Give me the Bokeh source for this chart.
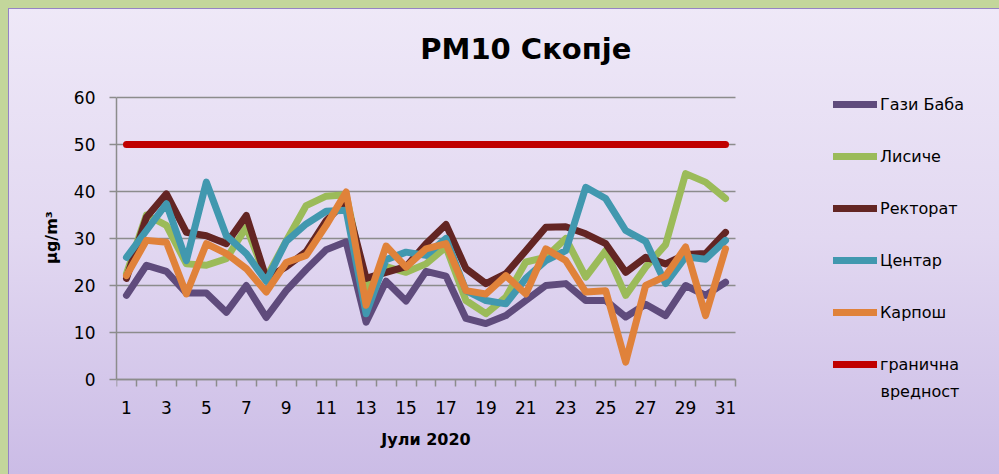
from bokeh.plotting import figure
from bokeh.models import (ColumnDataSource, Legend, LegendItem, FixedTicker, Range1d, Label)
from bokeh.embed import file_html
from bokeh.resources import INLINE

days = list(range(1, 32))
gazi_baba = [17.9, 24.3, 23.0, 18.4, 18.4, 14.3, 20.0, 13.2, 18.9, 23.4, 27.6, 29.3, 12.2, 20.9, 16.7,
             23.0, 22.0, 13.0, 11.9, 13.6, 16.8, 20.0, 20.4, 16.8, 16.8, 13.3, 16.0, 13.6, 20.0, 17.9, 20.7]
lisice = [22.5, 35.0, 32.8, 24.6, 24.3, 25.7, 32.4, 21.6, 29.5, 37.0, 39.0, 39.3, 19.5, 24.0, 22.8,
          24.6, 28.2, 16.8, 14.0, 17.5, 25.0, 26.0, 30.0, 21.8, 27.4, 17.9, 23.9, 28.7, 43.8, 42.0, 38.5]
rektorat = [21.5, 34.5, 39.5, 31.3, 30.6, 28.9, 34.9, 21.5, 24.0, 27.2, 33.8, 38.0, 21.5, 22.8, 24.0,
            28.9, 33.0, 23.6, 20.4, 22.5, 27.4, 32.4, 32.5, 31.0, 28.9, 22.8, 26.0, 24.6, 26.6, 26.8, 31.3]
centar = [26.0, 31.7, 37.4, 25.3, 42.0, 30.6, 26.8, 20.9, 29.4, 33.1, 35.8, 36.0, 14.0, 25.5, 27.1,
          26.4, 30.0, 18.9, 16.8, 16.1, 21.5, 25.3, 27.4, 40.9, 38.5, 31.7, 29.4, 20.4, 26.1, 25.6, 29.6]
karposh = [22.1, 29.6, 29.2, 18.2, 28.9, 26.8, 23.6, 18.6, 24.9, 26.4, 32.8, 39.9, 15.8, 28.4, 23.9,
           27.8, 28.9, 18.9, 18.2, 22.1, 18.2, 27.8, 25.3, 18.6, 18.9, 3.7, 20.0, 22.0, 28.2, 13.6, 27.8]
limit = [50] * 31

series_names = ["Гази Баба", "Лисиче", "Ректорат", "Центар", "Карпош", "гранична"]
limit_name_second_line = "вредност"
series_values = [gazi_baba, lisice, rektorat, centar, karposh, limit]
series_colors = ["#5f4b7c", "#9bbb59", "#632523", "#4198af", "#e0823a", "#c00000"]

x_tick_labels = {d: str(d) for d in range(1, 32, 2)}
y_ticks = [0, 10, 20, 30, 40, 50, 60]
title_text = "PM10 Скопје"

FONT = "DejaVu Sans"

# The frame fills the whole figure right of the value axis; the axes are pinned
# at their data positions so that the title and legend can sit inside the frame.
x_lo = days[0] - 0.5
x_hi = days[-1] + 0.5
px_per_day = 619 / (x_hi - x_lo)
x_end = x_lo + 883 / px_per_day
px_per_unit = 282 / y_ticks[-1]
y_start = -95 / px_per_unit
y_end = 379 / px_per_unit

p = figure(width=999, height=474, output_backend="svg", toolbar_location=None,
           x_range=Range1d(x_lo, x_end), y_range=Range1d(y_start, y_end),
           min_border_left=116, min_border_right=0, min_border_top=0, min_border_bottom=0)
p.border_fill_color = None
p.background_fill_color = None
p.outline_line_color = None
p.styles = {"background": "linear-gradient(to bottom, #efe9f8 0%, #e2d8f1 50%, #cbbce6 100%)",
            "box-shadow": "inset 8px 8px 0 0 #c3d69b, inset 9px 9px 0 0 #9583c4"}

# horizontal grid lines limited to the day axis
p.segment(x0=[x_lo] * len(y_ticks), x1=[x_hi] * len(y_ticks), y0=y_ticks, y1=y_ticks,
          line_color="#8c8c8c", line_width=1.5)

renderers = []
for name, vals, col in zip(series_names, series_values, series_colors):
    src = ColumnDataSource(dict(x=days, y=vals))
    r = p.line("x", "y", source=src, line_color=col, line_width=7,
               line_join="round", line_cap="round")
    renderers.append((name, r))

# axes
xa = p.xaxis[0]
xa.fixed_location = y_ticks[0]
xa.bounds = (x_lo, x_hi)
xa.ticker = FixedTicker(ticks=list(x_tick_labels.keys()),
                        minor_ticks=[d + 0.5 for d in range(0, 32)])
xa.major_label_overrides = x_tick_labels
xa.major_tick_line_color = None
xa.minor_tick_line_color = "#8c8c8c"
xa.minor_tick_out = 7
xa.minor_tick_in = 0
xa.minor_tick_line_width = 1.5
xa.axis_line_color = "#8c8c8c"
xa.axis_line_width = 1.5
xa.major_label_text_font = FONT
xa.major_label_text_font_size = "17px"
xa.major_label_text_color = "black"
xa.major_label_standoff = 14
xa.axis_label = "Јули 2020"
xa.axis_label_text_font = FONT
xa.axis_label_text_font_size = "16px"
xa.axis_label_text_font_style = "bold"
xa.axis_label_text_color = "black"
xa.axis_label_standoff = 13

ya = p.yaxis[0]
ya.bounds = (y_ticks[0], y_ticks[-1])
ya.ticker = FixedTicker(ticks=y_ticks, minor_ticks=[])
ya.major_tick_line_color = "#8c8c8c"
ya.major_tick_out = 7
ya.major_tick_in = 0
ya.major_tick_line_width = 1.5
ya.minor_tick_line_color = None
ya.axis_line_color = "#8c8c8c"
ya.axis_line_width = 1.5
ya.major_label_text_font = FONT
ya.major_label_text_font_size = "17px"
ya.major_label_text_color = "black"
ya.major_label_standoff = 14
ya.axis_label = "µg/m³"
ya.axis_label_text_font = FONT
ya.axis_label_text_font_size = "16px"
ya.axis_label_text_font_style = "bold"
ya.axis_label_text_color = "black"
ya.axis_label_standoff = 10

p.xgrid.grid_line_color = None
p.ygrid.grid_line_color = None

# title
p.add_layout(Label(x=21.0, y=70.4, text=title_text, text_font=FONT, text_font_size="29px",
                   text_font_style="bold", text_color="black", text_align="center",
                   text_baseline="middle"))

legend = Legend(items=[LegendItem(label=n, renderers=[r]) for n, r in renderers],
                location=(717, 100), orientation="vertical",
                glyph_width=44, glyph_height=20, label_height=20, spacing=32,
                label_standoff=3, padding=0, margin=0,
                border_line_color=None, background_fill_alpha=0,
                label_text_font=FONT, label_text_font_size="16px", label_text_color="black")
p.add_layout(legend)

# second line of the last legend entry
p.add_layout(Label(x=x_lo + 764 / px_per_day, y=-12 / px_per_unit, text=limit_name_second_line,
                   text_font=FONT, text_font_size="16px", text_color="black",
                   text_align="left", text_baseline="middle"))

open("out.html", "w").write(file_html(p, INLINE))
